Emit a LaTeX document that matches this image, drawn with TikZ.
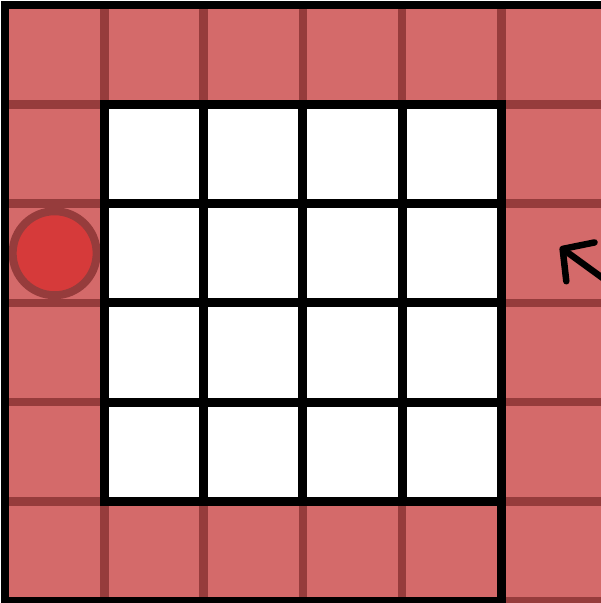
\documentclass[tikz,border=0pt]{standalone}
\usetikzlibrary{arrows.meta}
\definecolor{ringred}{RGB}{212,106,106}
\definecolor{ringdark}{RGB}{150,60,60}
\definecolor{ballred}{RGB}{214,58,58}

\begin{document}
\begin{tikzpicture}[
  ringcell/.style={fill=ringred,draw=ringdark,line width=0.085cm},
  wall/.style={black,line width=0.09cm,line cap=rect},
  border/.style={black,line width=0.075cm,line cap=rect},
  ball/.style={circle,fill=ballred,draw=ringdark,line width=0.08cm,minimum size=0.84cm,inner sep=0pt},
  pusharrow/.style={black,line width=0.065cm,line cap=round,-{Straight Barb[length=2.2mm,width=4.8mm,round]}}
]
\useasboundingbox[fill=white] (0,0) rectangle (6.01,-6.03);
\clip (0,0) rectangle (6.01,-6.03);
\begin{scope}[shift={(0.05,-0.05)},x=0.993cm,y=-0.993cm]
% outer ring
\foreach \i in {0,...,4} {
  \path[ringcell] (\i,0) rectangle ++(1,1);
  \path[ringcell] (\i,5) rectangle ++(1,1);
}
\foreach \j in {0,...,5}
  \path[ringcell] (5,\j) rectangle ++(1.2,1);
\foreach \j in {1,...,4}
  \path[ringcell] (0,\j) rectangle ++(1,1);
\node[ball] (ball) at (0.5,2.5) {};
% inner board
\foreach \k in {1,...,5} {
  \draw[wall] (\k,1) -- (\k,5);
  \draw[wall] (1,\k) -- (5,\k);
}
\draw[wall] (5,5) -- (5,6.1);
\draw[border] (6.2,0) -- (0,0) -- (0,6) -- (5,6);
\end{scope}
\coordinate (arrowtail) at (6.04,-2.79);
\coordinate (arrowtip) at (5.6,-2.47);
\draw[pusharrow] (arrowtail) -- (arrowtip);
\end{tikzpicture}
\end{document}
